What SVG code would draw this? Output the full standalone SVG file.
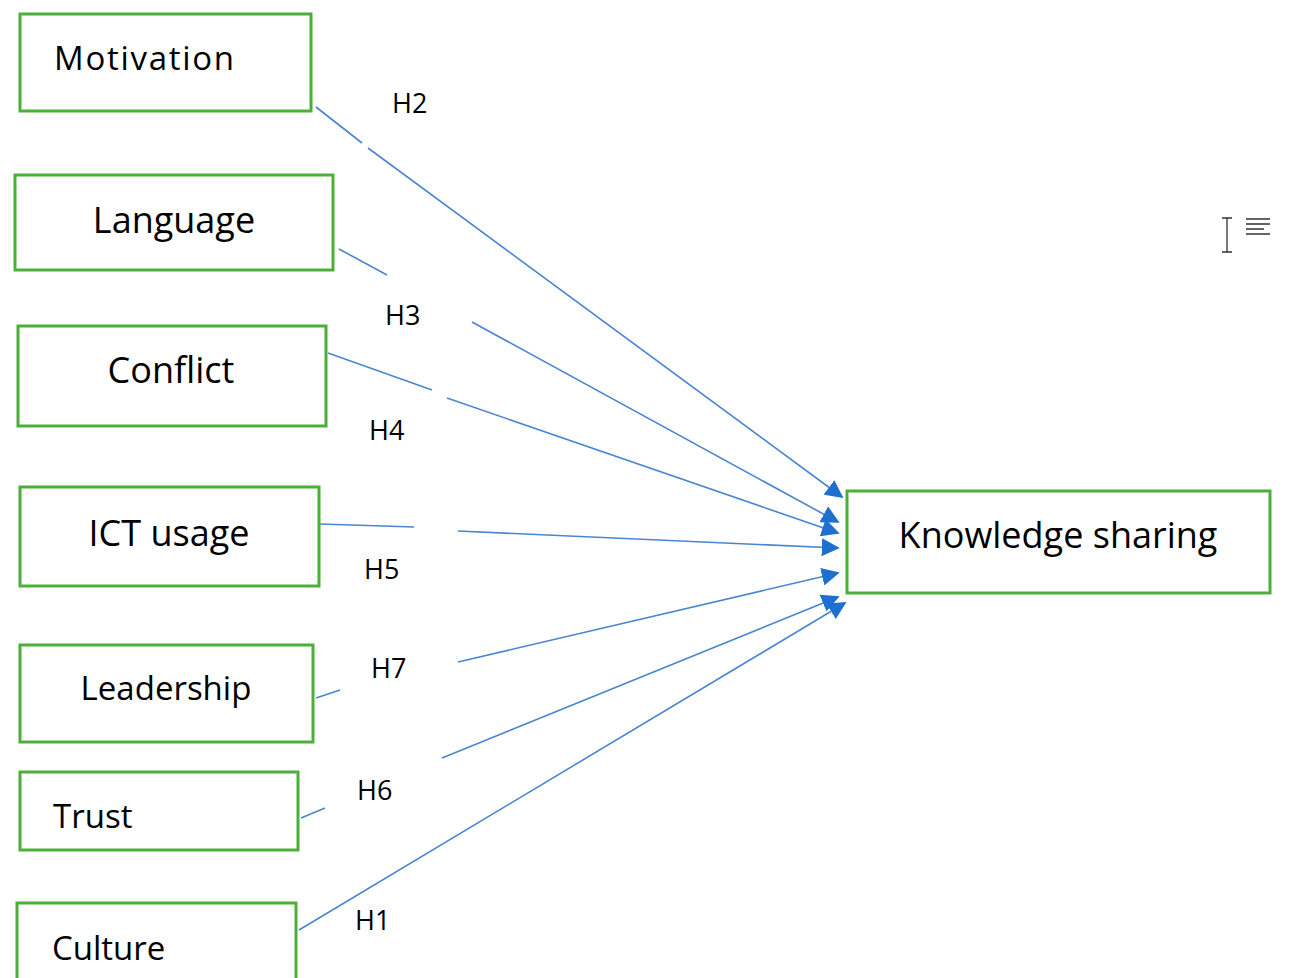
<svg xmlns="http://www.w3.org/2000/svg" width="1295" height="978" viewBox="0 0 1295 978">
<style>
.box{fill:#fff;stroke:#4caf3a;stroke-width:3}
.t{font-family:"Open Sans","Liberation Sans",sans-serif;fill:#000}
.n{font-size:36px}
.s{font-size:33px}
.l{font-size:27px}
.c{stroke:#4a86d0;stroke-width:1.6;fill:none}
</style>
<defs>
<marker id="b" viewBox="0 0 10 10" refX="9" refY="5" markerWidth="18" markerHeight="18" markerUnits="userSpaceOnUse" orient="auto"><path d="M0,0L10,5L0,10z" fill="#1f6fd0"/></marker>
</defs>
<rect width="1295" height="978" fill="#fff"/>
<g id="connectors">
<path class="c" d="M316,107L362,143M368,148L842,497" marker-end="url(#b)"/>
<path class="c" d="M339,249L387,275M472,322L838,522" marker-end="url(#b)"/>
<path class="c" d="M328,353L432,390M447,398L838,533" marker-end="url(#b)"/>
<path class="c" d="M320,524L414,527M458,531L838,548" marker-end="url(#b)"/>
<path class="c" d="M316,698L340,690M458,662L838,573" marker-end="url(#b)"/>
<path class="c" d="M301,818L325,808M442,758L838,597" marker-end="url(#b)"/>
<path class="c" d="M299,930L845,603" marker-end="url(#b)"/>
<text class="t l" x="392" y="113">H2</text>
<text class="t l" x="385" y="325">H3</text>
<text class="t l" x="369" y="440">H4</text>
<text class="t l" x="364" y="579">H5</text>
<text class="t l" x="371" y="678">H7</text>
<text class="t l" x="357" y="800">H6</text>
<text class="t l" x="355" y="930">H1</text>
</g>
<g id="motivation"><rect class="box" x="20" y="14" width="291" height="97"/><text class="t s" x="54" y="70" textLength="180">Motivation</text></g>
<g id="language"><rect class="box" x="15" y="175" width="318" height="95"/><text class="t n" x="174" y="233" text-anchor="middle">Language</text></g>
<g id="conflict"><rect class="box" x="18" y="326" width="308" height="100"/><text class="t n" x="171" y="383" text-anchor="middle">Conflict</text></g>
<g id="ict"><rect class="box" x="20" y="487" width="299" height="99"/><text class="t n" x="169" y="546" text-anchor="middle">ICT usage</text></g>
<g id="leadership"><rect class="box" x="20" y="645" width="293" height="97"/><text class="t s" x="166" y="700" text-anchor="middle">Leadership</text></g>
<g id="trust"><rect class="box" x="20" y="772" width="278" height="78"/><text class="t s" x="53" y="828">Trust</text></g>
<g id="culture"><rect class="box" x="17" y="903" width="279" height="90"/><text class="t s" x="52" y="960">Culture</text></g>
<g id="knowledge"><rect class="box" x="847" y="491" width="423" height="102"/><text class="t n" x="1058" y="548" text-anchor="middle">Knowledge sharing</text></g>
<g id="cursor" stroke="#333" stroke-width="1.3" fill="none"><path d="M1222,218h10M1227,218v34M1222,252h10M1246,219h24M1246,224h24M1246,229h18M1246,234h24"/></g>
</svg>
